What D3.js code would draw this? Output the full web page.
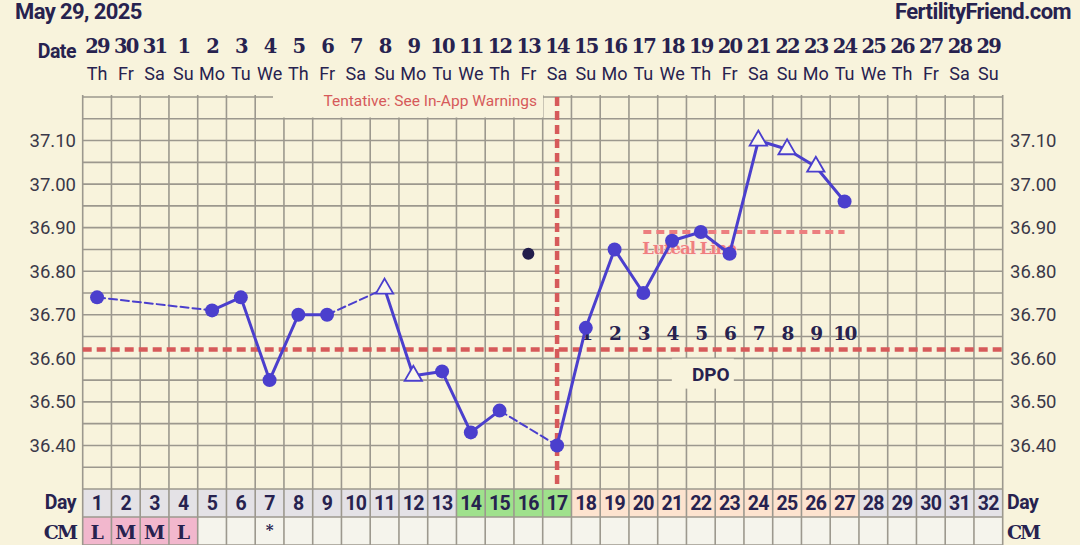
<!DOCTYPE html>
<html>
<head>
<meta charset="utf-8">
<script src="https://cdn.jsdelivr.net/npm/d3@7"></script>
<style>
  html, body { margin: 0; padding: 0; background: #f8f3dc; }
  svg { display: block; }
</style>
</head>
<body>
<div id="chart"></div>
<script>
// cycle days and calendar
const cycleDays = [1,2,3,4,5,6,7,8,9,10,11,12,13,14,15,16,17,18,19,20,21,22,23,24,25,26,27,28,29,30,31,32];
const dates = [29,30,31,1,2,3,4,5,6,7,8,9,10,11,12,13,14,15,16,17,18,19,20,21,22,23,24,25,26,27,28,29];
const weekdays = ["Th","Fr","Sa","Su","Mo","Tu","We","Th","Fr","Sa","Su","Mo","Tu","We","Th","Fr","Sa","Su","Mo","Tu","We","Th","Fr","Sa","Su","Mo","Tu","We","Th","Fr","Sa","Su"];

// temperatures (c = circle, t = open triangle)
const tempDays = [1,5,6,7,8,9,11,12,13,14,15,17,18,19,20,21,22,23,24,25,26,27];
const tempValues = [36.74,36.71,36.74,36.55,36.70,36.70,36.76,36.56,36.57,36.43,36.48,36.40,36.67,36.85,36.75,36.87,36.89,36.84,37.10,37.08,37.04,36.96];
const tempMarks = ["c","c","c","c","c","c","t","t","c","c","c","c","c","c","c","c","c","c","t","t","t","c"];

// discarded temperature
const excludedDays = [16];
const excludedValues = [36.84];

const yTicks = [36.40,36.50,36.60,36.70,36.80,36.90,37.00,37.10];
const coverline = 36.62;
const ovulationDay = 17;
const lutealDays = [20, 27];
const lutealValue = 36.89;

const dpoDays = [18,19,20,21,22,23,24,25,26,27];
const dpoLabels = ["1","2","3","4","5","6","7","8","9","10"];

const cmDays = [1,2,3,4,7];
const cmLabels = ["L","M","M","L","*"];

const greenDays = [14,15,16,17];
const peachDays = [18,19,20,21,22,23,24,25,26,27];

const W = 1080, H = 545;
const navy = "#27224f";
const purple = "#4b3fcd";
const red = "#d65a5a";
const gridColor = "#9c988e";
const bg = "#f8f3dc";
const serif = "'DejaVu Serif', serif";
const sans = "Roboto, sans-serif";

const svg = d3.select("#chart").append("svg")
  .attr("width", W).attr("height", H);

svg.append("rect").attr("width", W).attr("height", H).attr("fill", bg);

const x = d3.scaleBand().domain(cycleDays).range([82.7, 1002.7]);
const cx = d => x(d) + x.bandwidth() / 2;
const y = d3.scaleLinear().domain([36.30, 37.20]).range([489, 97]);

const dayRowTop = 489, cmRowTop = 517, bottom = 545;

// day row + cm row backgrounds
svg.append("g").selectAll("rect")
  .data(cycleDays).join("rect")
  .attr("x", d => x(d)).attr("y", dayRowTop)
  .attr("width", x.bandwidth()).attr("height", cmRowTop - dayRowTop)
  .attr("fill", d => greenDays.includes(d) ? "#9fe18c" : peachDays.includes(d) ? "#fde3cf" : "#e4e2e6");

svg.append("g").selectAll("rect")
  .data(cycleDays).join("rect")
  .attr("x", d => x(d)).attr("y", cmRowTop)
  .attr("width", x.bandwidth()).attr("height", bottom - cmRowTop)
  .attr("fill", d => (cmDays.includes(d) && cmLabels[cmDays.indexOf(d)] !== "*") ? "#f2b7cd" : "#f5f4ec");

// grid
const grid = svg.append("g").attr("stroke", gridColor).attr("stroke-width", 1.6);
const hLines = d3.range(0, 19).map(i => 36.30 + i * 0.05);
grid.selectAll("line.h").data(hLines).join("line")
  .attr("class", "h")
  .attr("x1", 82.7).attr("x2", 1002.7)
  .attr("y1", d => y(d)).attr("y2", d => y(d));
grid.selectAll("line.r").data([cmRowTop, bottom]).join("line")
  .attr("class", "r")
  .attr("x1", 82.7).attr("x2", 1002.7)
  .attr("y1", d => d).attr("y2", d => d);
grid.selectAll("line.v").data(cycleDays.concat([33])).join("line")
  .attr("class", "v")
  .attr("x1", d => d === 33 ? 1002.7 : x(d)).attr("x2", d => d === 33 ? 1002.7 : x(d))
  .attr("y1", 95).attr("y2", bottom);

// tentative label box
svg.append("rect").attr("x", 273).attr("y", 86).attr("width", 270).attr("height", 31.5).attr("fill", bg);
svg.append("text").attr("x", 537).attr("y", 106)
  .attr("text-anchor", "end")
  .attr("font-family", sans).attr("font-size", 15.5)
  .attr("fill", red).text("Tentative: See In-App Warnings");

// DPO label box
const dpoY = y(coverline) + 24;
svg.append("rect").attr("x", cx(22) - 29).attr("y", dpoY - 15).attr("width", 62).attr("height", 30).attr("fill", bg);
svg.append("text").attr("x", cx(22) + 10).attr("y", dpoY + 7)
  .attr("text-anchor", "middle")
  .attr("font-family", sans).attr("font-weight", "bold").attr("font-size", 19)
  .attr("fill", navy).text("DPO");

// coverline and ovulation line
svg.append("line")
  .attr("x1", 82.7).attr("x2", 1002.7)
  .attr("y1", y(coverline)).attr("y2", y(coverline))
  .attr("stroke", red).attr("stroke-width", 4.5).attr("stroke-dasharray", "9,5");
svg.append("line")
  .attr("x1", cx(ovulationDay)).attr("x2", cx(ovulationDay))
  .attr("y1", 97).attr("y2", dayRowTop)
  .attr("stroke", red).attr("stroke-width", 4.5).attr("stroke-dasharray", "9,5");

// luteal line
svg.append("line")
  .attr("x1", cx(lutealDays[0])).attr("x2", cx(lutealDays[1]))
  .attr("y1", y(lutealValue)).attr("y2", y(lutealValue))
  .attr("stroke", "#ec7e7f").attr("stroke-width", 4).attr("stroke-dasharray", "8,5");
svg.append("text").attr("x", cx(lutealDays[0]) - 1).attr("y", y(lutealValue) + 22)
  .attr("font-family", serif).attr("font-weight", "bold").attr("font-size", 16.5)
  .attr("letter-spacing", -1)
  .attr("fill", "#ef7f7f").attr("stroke", "#fbe6df").attr("stroke-width", 1.2).attr("paint-order", "stroke")
  .text("Luteal Line");

// DPO numbers
svg.append("g").selectAll("text")
  .data(dpoDays).join("text")
  .attr("x", cx).attr("y", y(coverline) - 10)
  .attr("text-anchor", "middle")
  .attr("font-family", serif).attr("font-weight", "bold").attr("font-size", 18.5)
  .attr("letter-spacing", -1.5)
  .attr("fill", navy).text((d, i) => dpoLabels[i]);

// temperature segments
const pts = tempDays.map((d, i) => ({ day: d, v: tempValues[i], m: tempMarks[i] }));
const segs = d3.pairs(pts);
svg.append("g").selectAll("line")
  .data(segs).join("line")
  .attr("x1", s => cx(s[0].day)).attr("y1", s => y(s[0].v))
  .attr("x2", s => cx(s[1].day)).attr("y2", s => y(s[1].v))
  .attr("stroke", purple)
  .attr("stroke-width", s => s[1].day - s[0].day > 1 ? 2 : 3)
  .attr("stroke-dasharray", s => s[1].day - s[0].day > 1 ? "8,4" : null)
  .attr("stroke-linecap", "round");

// markers
svg.append("g").selectAll("circle")
  .data(pts.filter(p => p.m === "c")).join("circle")
  .attr("cx", p => cx(p.day)).attr("cy", p => y(p.v)).attr("r", 7)
  .attr("fill", purple);
const tri = d3.symbol().type(d3.symbolTriangle).size(130);
svg.append("g").selectAll("path")
  .data(pts.filter(p => p.m === "t")).join("path")
  .attr("d", tri)
  .attr("transform", p => `translate(${cx(p.day)},${y(p.v)})`)
  .attr("fill", "#fbf8ea").attr("stroke", purple).attr("stroke-width", 1.8);

svg.append("g").selectAll("circle")
  .data(excludedDays).join("circle")
  .attr("cx", d => cx(d)).attr("cy", (d, i) => y(excludedValues[i])).attr("r", 6)
  .attr("fill", "#221d4c");

// y axes
const axisFont = sel => sel.selectAll("text")
  .attr("font-family", sans).attr("font-size", 18.5).attr("fill", "#3a3848");
const left = svg.append("g").attr("transform", "translate(77,0)")
  .call(d3.axisLeft(y).tickValues(yTicks).tickFormat(d3.format(".2f")).tickSize(0).tickPadding(1));
left.select(".domain").remove();
axisFont(left);
const right = svg.append("g").attr("transform", "translate(1008,0)")
  .call(d3.axisRight(y).tickValues(yTicks).tickFormat(d3.format(".2f")).tickSize(0).tickPadding(2));
right.select(".domain").remove();
axisFont(right);

// top header
svg.append("text").attr("x", 15).attr("y", 19)
  .attr("font-family", sans).attr("font-weight", "bold").attr("font-size", 22)
  .attr("letter-spacing", -0.6)
  .attr("fill", navy).text("May 29, 2025");
svg.append("text").attr("x", 1071).attr("y", 19).attr("text-anchor", "end")
  .attr("font-family", sans).attr("font-weight", "bold").attr("font-size", 22)
  .attr("letter-spacing", -0.6)
  .attr("fill", navy).text("FertilityFriend.com");

svg.append("text").attr("x", 76).attr("y", 58).attr("text-anchor", "end")
  .attr("font-family", sans).attr("font-weight", "bold").attr("font-size", 19.5)
  .attr("letter-spacing", -0.5)
  .attr("fill", navy).text("Date");

svg.append("g").selectAll("text")
  .data(cycleDays).join("text")
  .attr("x", cx).attr("y", 53)
  .attr("text-anchor", "middle")
  .attr("font-family", serif).attr("font-weight", "bold").attr("font-size", 19.5)
  .attr("letter-spacing", -1.8)
  .attr("fill", navy).text((d, i) => dates[i]);

svg.append("g").selectAll("text")
  .data(cycleDays).join("text")
  .attr("x", cx).attr("y", 80)
  .attr("text-anchor", "middle")
  .attr("font-family", sans).attr("font-size", 18)
  .attr("fill", navy).text((d, i) => weekdays[i]);

// bottom rows
svg.append("g").selectAll("text")
  .data(cycleDays).join("text")
  .attr("x", cx).attr("y", 510)
  .attr("text-anchor", "middle")
  .attr("font-family", sans).attr("font-weight", "bold").attr("font-size", 19.5)
  .attr("letter-spacing", -0.6)
  .attr("fill", navy).text(d => d);

svg.append("g").selectAll("text")
  .data(cmDays).join("text")
  .attr("x", d => cx(d)).attr("y", (d, i) => cmLabels[i] === "*" ? 535 : 539)
  .attr("text-anchor", "middle")
  .attr("font-family", serif).attr("font-weight", "bold")
  .attr("font-size", (d, i) => cmLabels[i] === "*" ? 15 : 19)
  .attr("fill", navy).text((d, i) => cmLabels[i]);

const rowLabel = (xPos, anchor, yPos, txt, isSerif) => svg.append("text")
  .attr("x", xPos).attr("y", yPos).attr("text-anchor", anchor)
  .attr("font-family", isSerif ? serif : sans)
  .attr("font-weight", "bold").attr("font-size", isSerif ? 19 : 19.5)
  .attr("letter-spacing", isSerif ? -2 : -0.5)
  .attr("fill", navy).text(txt);
rowLabel(76, "end", 509, "Day", false);
rowLabel(76, "end", 539, "CM", true);
rowLabel(1007, "start", 509, "Day", false);
rowLabel(1007, "start", 539, "CM", true);
</script>
</body>
</html>
